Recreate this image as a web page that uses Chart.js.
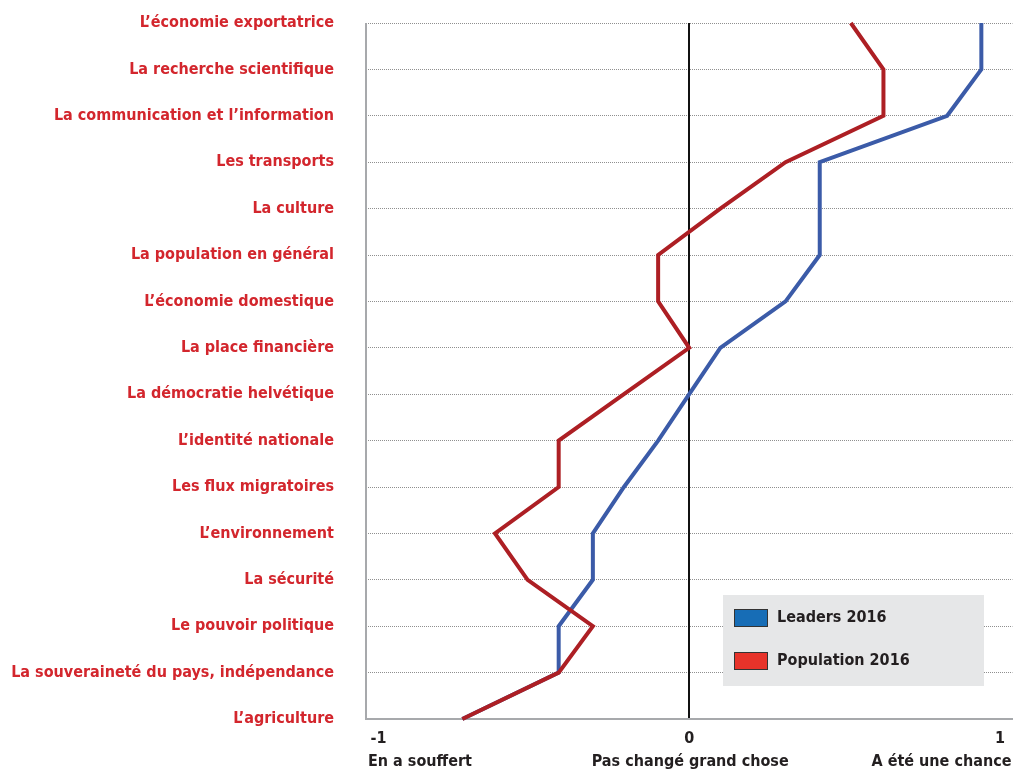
<!DOCTYPE html>
<html>
<head>
<meta charset="utf-8">
<script src="https://cdn.jsdelivr.net/npm/chart.js@4/dist/chart.umd.min.js"></script>
<style>
  html, body { margin: 0; padding: 0; background: #fff; }
  #wrap { width: 1015px; height: 771px; }
</style>
</head>
<body>
<div id="wrap"><canvas id="chart"></canvas></div>
<script>
// categories
const categories = [
	"L\u2019économie exportatrice",
	"La recherche scientifique",
	"La communication et l\u2019information",
	"Les transports",
	"La culture",
	"La population en général",
	"L\u2019économie domestique",
	"La place financière",
	"La démocratie helvétique",
	"L\u2019identité nationale",
	"Les flux migratoires",
	"L\u2019environnement",
	"La sécurité",
	"Le pouvoir politique",
	"La souveraineté du pays, indépendance",
	"L\u2019agriculture",
];

// series
const leaders2016 = [0.94, 0.94, 0.83, 0.42, 0.42, 0.42, 0.31, 0.1, 0, -0.1, -0.21, -0.31, -0.31, -0.42, -0.42, -0.73];
const population2016 = [0.52, 0.625, 0.625, 0.31, 0.1, -0.1, -0.1, 0, -0.21, -0.42, -0.42, -0.625, -0.52, -0.31, -0.42, -0.73];

// x axis
const xTicks = [-1, 0, 1];
const xCaptions = ["En a souffert", "Pas changé grand chose", "A été une chance"];

const labelFont = "'DejaVu Sans Condensed', 'DejaVu Sans', sans-serif";

// legend + captions under axis
const extras = {
	id: "extras",
	afterDraw(chart) {
		const ctx = chart.ctx;
		const x = chart.scales.x;
		const y = chart.scales.y;
		ctx.save();
		// solid left axis
		ctx.strokeStyle = "#a7a9ac";
		ctx.lineWidth = 2;
		ctx.beginPath();
		ctx.moveTo(x.left, y.top);
		ctx.lineTo(x.left, y.bottom + 1);
		ctx.stroke();

		ctx.font = "bold 16px " + labelFont;
		ctx.fillStyle = "#231f20";
		ctx.textBaseline = "middle";
		ctx.textAlign = "left";
		ctx.fillText(xCaptions[0], x.left + 2, 762);
		ctx.textAlign = "center";
		ctx.fillText(xCaptions[1], x.getPixelForValue(0) + 1, 762);
		ctx.textAlign = "right";
		ctx.fillText(xCaptions[2], x.right - 1, 762);

		// legend box
		ctx.fillStyle = "#e6e7e8";
		ctx.fillRect(723, 595, 261, 91);
		const items = [
			{ text: "Leaders 2016", color: "#176db6", y: 609 },
			{ text: "Population 2016", color: "#e7332a", y: 652 },
		];
		items.forEach((it) => {
			ctx.fillStyle = it.color;
			ctx.fillRect(734, it.y, 34, 18);
			ctx.strokeStyle = "#333";
			ctx.lineWidth = 1;
			ctx.strokeRect(734.5, it.y + 0.5, 33, 17);
			ctx.fillStyle = "#231f20";
			ctx.textAlign = "left";
			ctx.fillText(it.text, 777, it.y + 9);
		});
		ctx.restore();
	},
};

const ctx = document.getElementById("chart").getContext("2d");

new Chart(ctx, {
	type: "line",
	data: {
		labels: categories,
		datasets: [
			{
				label: "Population 2016",
				data: population2016,
				borderColor: "#ad1f24",
				borderWidth: 4,
				pointRadius: 0,
				tension: 0,
				fill: false,
				order: 0,
			},
			{
				label: "Leaders 2016",
				data: leaders2016,
				borderColor: "#3b5ba8",
				borderWidth: 4,
				pointRadius: 0,
				tension: 0,
				fill: false,
				order: 1,
			},
		],
	},
	options: {
		indexAxis: "y",
		responsive: true,
		maintainAspectRatio: false,
		animation: false,
		layout: { padding: { top: 23, left: 0, right: 0, bottom: 0 } },
		plugins: {
			legend: { display: false },
			tooltip: { enabled: false },
		},
		scales: {
			y: {
				type: "category",
				offset: false,
				afterFit(scale) {
					scale.width = 366;
					scale.paddingTop = 0;
					scale.paddingBottom = 0;
				},
				grid: {
					color: "#8f8f8f",
					lineWidth: 1,
					drawTicks: false,
				},
				border: { display: false, dash: [1, 1] },
				ticks: {
					color: "#d3262d",
					padding: 32,
					font: { family: labelFont, size: 16, weight: "bold" },
				},
			},
			x: {
				type: "linear",
				min: -1.04,
				max: 1.04,
				afterBuildTicks(scale) {
					scale.ticks = xTicks.map((v) => ({ value: v }));
				},
				afterFit(scale) {
					scale.height = 52;
				},
				grid: {
					color: (c) => (c.tick && c.tick.value === 0 ? "#111" : "transparent"),
					lineWidth: 2,
					drawTicks: false,
				},
				border: { display: true, color: "#a7a9ac", width: 2 },
				ticks: {
					color: "#231f20",
					padding: 10,
					font: { family: labelFont, size: 16, weight: "bold" },
					callback: (v) => String(v),
				},
			},
		},
	},
	plugins: [extras],
});
</script>
</body>
</html>
